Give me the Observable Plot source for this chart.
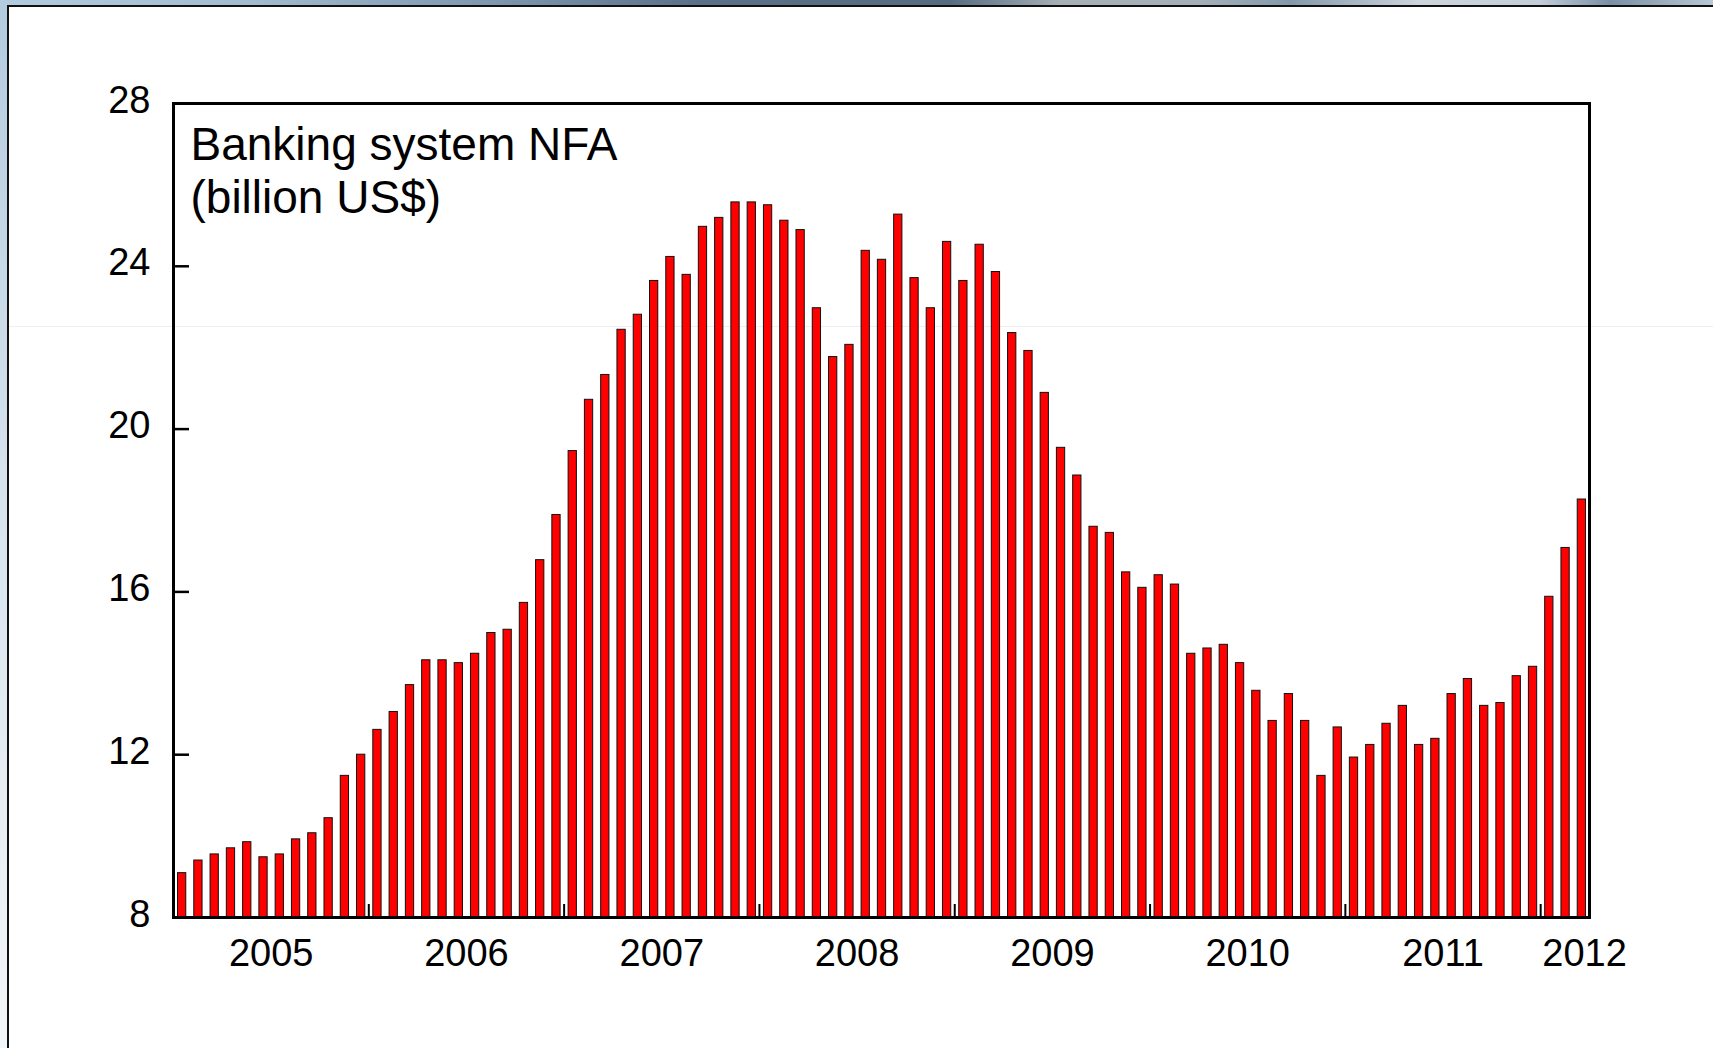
<!DOCTYPE html>
<html>
<head>
<meta charset="utf-8">
<script src="https://cdn.jsdelivr.net/npm/d3@7"></script>
<script src="https://cdn.jsdelivr.net/npm/@observablehq/plot@0.6"></script>
<style>
  html, body { margin: 0; padding: 0; background: #fff; }
  #wrap { position: relative; width: 1713px; height: 1048px; overflow: hidden; background: #fff; }
  #faint { position: absolute; left: 9px; top: 326px; width: 1704px; height: 1px; background: #eeeff2; }
  #chart { position: absolute; left: 0; top: 0; }
  #topbar { position: absolute; left: 0; top: 0; width: 1713px; height: 5px;
    background: linear-gradient(to right, #b3cbdf 0px, #a2bbd0 250px, #7d95ad 500px, #5a7088 700px, #566c82 950px, #a6b0b6 1060px, #a4b0b8 1200px, #8399ab 1290px, #cdd5dc 1420px, #c2ced8 1540px, #7a8fa6 1610px, #b8c8d4 1713px); }
  #topline { position: absolute; left: 7px; top: 5px; width: 1706px; height: 2px; background: #111; }
  #leftbar { position: absolute; left: 0; top: 0; width: 7px; height: 1048px;
    background: linear-gradient(to bottom, #b3cbdf 0%, #d6e2ec 45%, #f3f6f9 100%); }
  #leftline { position: absolute; left: 7px; top: 5px; width: 2px; height: 1043px; background: #111; }
</style>
</head>
<body>
<div id="wrap">
  <div id="faint"></div>
  <div id="chart"></div>
  <div id="topbar"></div>
  <div id="leftbar"></div>
  <div id="topline"></div>
  <div id="leftline"></div>
</div>
<script>
// Monthly banking system NFA, billion US$, Jan 2005 – Mar 2012
const startYear = 2005;
const values = [
  9.09, 9.40, 9.55, 9.70, 9.85, 9.48, 9.55, 9.92, 10.07, 10.44, 11.48, 12.00,
  12.61, 13.05, 13.71, 14.32, 14.32, 14.25, 14.48, 14.99, 15.07, 15.73, 16.78, 17.89,
  19.46, 20.72, 21.33, 22.44, 22.81, 23.64, 24.23, 23.79, 24.97, 25.19, 25.57, 25.57,
  25.50, 25.12, 24.89, 22.97, 21.77, 22.07, 24.38, 24.16, 25.27, 23.71, 22.97, 24.60,
  23.64, 24.53, 23.86, 22.36, 21.92, 20.89, 19.54, 18.86, 17.60, 17.45, 16.48, 16.10,
  16.41, 16.18, 14.48, 14.61, 14.70, 14.25, 13.57, 12.83, 13.49, 12.83, 11.48, 12.67,
  11.93, 12.24, 12.76, 13.20, 12.24, 12.39, 13.49, 13.86, 13.20, 13.27, 13.93, 14.16,
  15.88, 17.08, 18.27
];
const yTicks = [8, 12, 16, 20, 24, 28];
const yearLabels = ["2005", "2006", "2007", "2008", "2009", "2010", "2011", "2012"];
const titleText = "Banking system NFA\n(billion US$)";

const nMonths = values.length;
const bars = values.map((v, k) => ({start: k, end: k + 1, v}));
const yearTicks = yearLabels.slice(1).map(y => (+y - startYear) * 12);
const yearText = yearLabels.map(y => ({label: y, x: Math.min((+y - startYear) * 12 + 6, nMonths - 0.3)}));

const W = 1713, H = 1048;
const mL = 173, mR = 124, mT = 103, mB = 131;
const plotW = W - mL - mR, plotH = H - mT - mB;
const font = "'Liberation Sans', Arial, Helvetica, sans-serif";

const chart = Plot.plot({
  width: W,
  height: H,
  marginLeft: mL,
  marginRight: mR,
  marginTop: mT,
  marginBottom: mB,
  style: {background: "transparent", fontFamily: font, color: "#000", overflow: "visible"},
  x: {type: "linear", domain: [0, nMonths], axis: null},
  y: {domain: [8, 28], axis: null},
  marks: [
    Plot.rect(bars, {x1: "start", x2: "end", y1: 8, y2: "v", insetLeft: 4.5, insetRight: 3.5,
      fill: "#ff0000", stroke: "#111", strokeWidth: 1}),
    Plot.axisY(yTicks, {anchor: "left", label: null, tickSize: 0, tickPadding: 23, dy: -3, fontSize: 38, fill: "#000"}),
    Plot.tickY(yTicks, {y: d => d, insetRight: plotW - 16, stroke: "#000", strokeWidth: 2.5}),
    Plot.tickX(yearTicks, {x: d => d, insetTop: plotH - 13, stroke: "#000", strokeWidth: 2}),
    Plot.text(yearText, {x: "x", frameAnchor: "bottom", lineAnchor: "middle", dy: 36, text: "label", fontSize: 38, fill: "#000"}),
    Plot.text([titleText], {frameAnchor: "top-left", dx: 17, dy: 18.5, textAnchor: "start", lineAnchor: "top",
      lineHeight: 1.16, fontSize: 46, fill: "#000"}),
    Plot.frame({stroke: "#000", strokeWidth: 3})
  ]
});
document.getElementById("chart").appendChild(chart);
</script>
</body>
</html>
